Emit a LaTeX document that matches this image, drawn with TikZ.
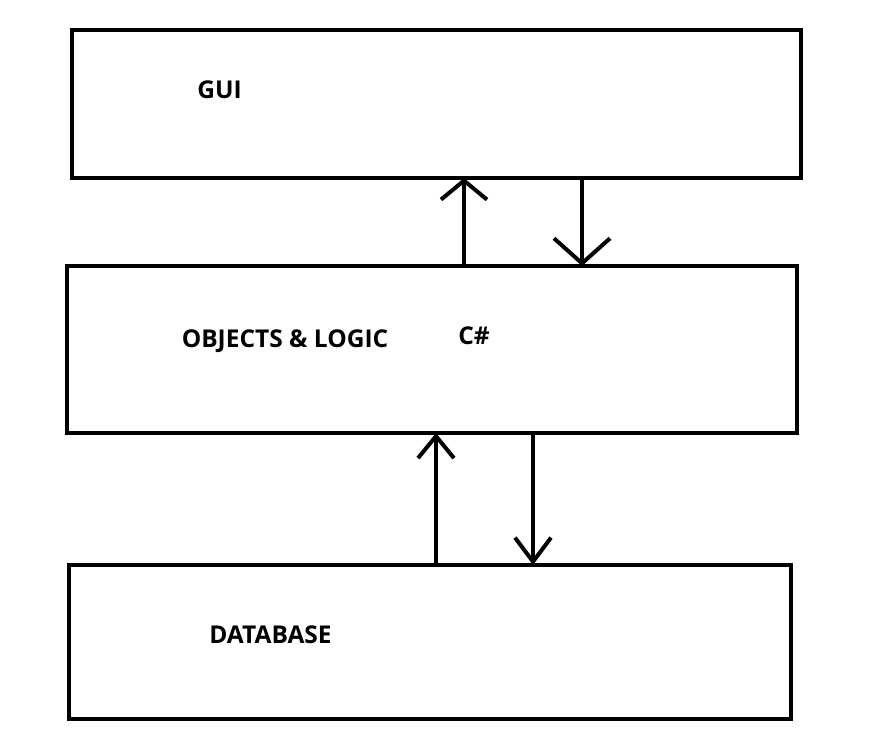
\documentclass[tikz,border=0pt]{standalone}
\usepackage{fontspec}
\setmainfont{Open Sans}
\usetikzlibrary{arrows.meta}
\begin{document}
\begin{tikzpicture}[x=1pt,y=-1pt,
  box/.style={draw,line width=4pt,inner sep=0pt,outer sep=0pt},
  lbl/.style={font=\fontsize{24.5}{29}\selectfont\bfseries,inner sep=0pt,anchor=base},
  arr/.style={line width=4pt}]
\useasboundingbox[fill=white] (0,0) rectangle (876,754);
\node[box,minimum width=729pt,minimum height=148pt] (gui) at (436.5,104) {};
\node[box,minimum width=730pt,minimum height=167pt] (obj) at (432,349.5) {};
\node[box,minimum width=722pt,minimum height=154pt] (db) at (430,642) {};
\node[lbl] (tgui) at (219.5,99) {GUI};
\node[lbl] (tobj) at (285,347.5) {OBJECTS \& LOGIC};
\node[lbl] (tcs) at (474,344) {C\#};
\node[lbl] (tdb) at (270.5,643) {DATABASE};
\coordinate (x1) at (464,0);
\coordinate (x2) at (582,0);
\coordinate (x3) at (436,0);
\coordinate (x4) at (533,0);
\draw[arr,-{Straight Barb[length=19pt,width=46pt,line width=4pt]}] (obj.north -| x1) -- (gui.south -| x1);
\draw[arr,-{Straight Barb[length=25pt,width=56pt,line width=4pt]}] (gui.south -| x2) -- (obj.north -| x2);
\draw[arr,-{Straight Barb[length=22pt,width=36pt,line width=4pt]}] (db.north -| x3) -- (obj.south -| x3);
\draw[arr,-{Straight Barb[length=24pt,width=36pt,line width=4pt]}] (obj.south -| x4) -- (db.north -| x4);
\end{tikzpicture}
\end{document}
